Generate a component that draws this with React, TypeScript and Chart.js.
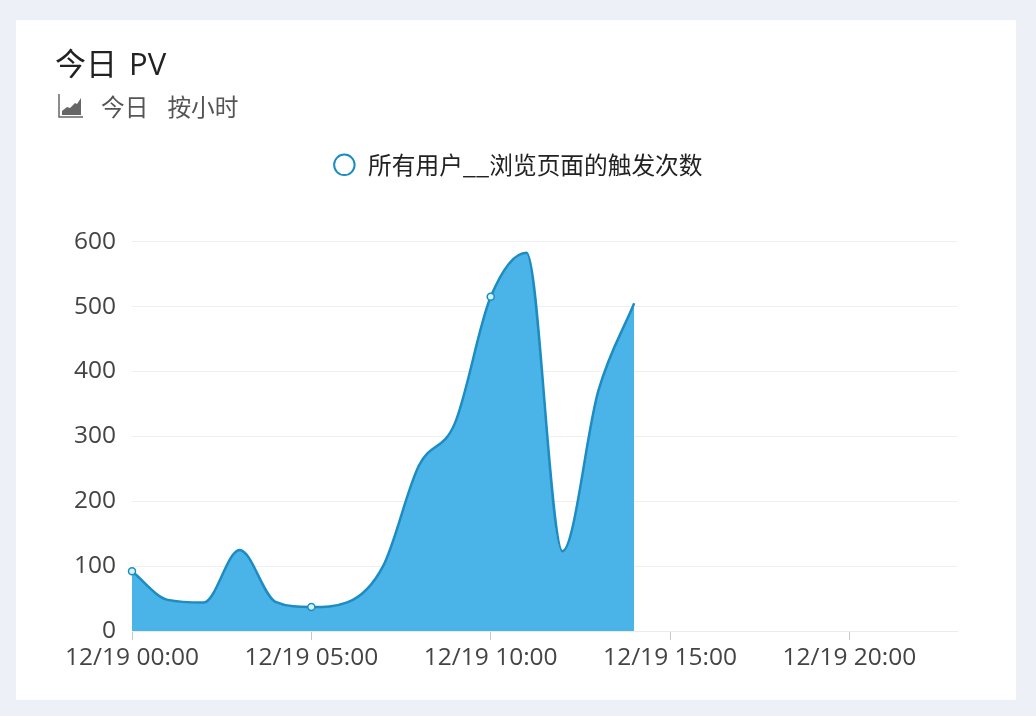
import React, { useEffect, useRef } from "react";
import { Chart, registerables } from "chart.js";

Chart.register(...registerables);

const hours: string[] = [
  "00", "01", "02", "03", "04", "05", "06", "07", "08", "09", "10", "11",
  "12", "13", "14", "15", "16", "17", "18", "19", "20", "21", "22", "23",
];
const categories: string[] = hours.map((h) => `12/19 ${h}:00`);
const pv: number[] = [92, 48, 44, 125, 45, 37, 44, 100, 255, 320, 515, 583, 123, 370, 505];
const markedIndexes: number[] = [0, 5, 10];
const yTicks: number[] = [0, 100, 200, 300, 400, 500, 600];
const seriesName = "所有用户__浏览页面的触发次数";
const latin = '"Open Sans", "Noto Sans CJK SC", sans-serif';
const cjk = '"Noto Sans CJK SC", "Open Sans", sans-serif';

const legendMover = {
  id: "legendMover",
  afterLayout(chart: any) {
    const l = chart.legend;
    const dy = 123 - l.top;
    l.top += dy;
    l.bottom += dy;
    l.left += 31;
    l.right += 31;
  },
};

export default function App() {
  const ref = useRef<HTMLCanvasElement | null>(null);
  useEffect(() => {
    const chart = new Chart(ref.current as HTMLCanvasElement, {
      type: "line",
      plugins: [legendMover],
      data: {
        labels: categories,
        datasets: [
          {
            label: seriesName,
            data: pv,
            fill: "origin",
            backgroundColor: "#4ab3e8",
            borderColor: "#1c8cc2",
            borderWidth: 2.5,
            cubicInterpolationMode: "monotone",
            pointRadius: (c: any) => (markedIndexes.includes(c.dataIndex) ? 3.5 : 0),
            pointBackgroundColor: "#d8f4f8",
            pointBorderColor: "#1c8cc2",
            pointBorderWidth: 1.5,
          },
        ],
      },
      options: {
        animation: false,
        responsive: false,
        layout: { padding: { top: 178, right: 59, left: 0, bottom: 0 } },
        plugins: {
          tooltip: { enabled: false },
          legend: {
            position: "top",
            labels: {
              usePointStyle: true,
              pointStyle: "circle",
              boxHeight: 14.5,
              padding: 10,
              color: "#222",
              font: { family: cjk, size: 23.7 },
              generateLabels: () => [
                {
                  text: seriesName,
                  fillStyle: "#ffffff",
                  strokeStyle: "#1c8cc2",
                  lineWidth: 2,
                  pointStyle: "circle",
                  datasetIndex: 0,
                  fontColor: "#222",
                },
              ],
            },
          },
        },
        scales: {
          x: {
            type: "category",
            offset: false,
            afterBuildTicks: (s: any) => {
              s.ticks = s.ticks.filter((t: any) => t.value % 5 === 0);
            },
            afterFit: (s: any) => {
              s.height = 69;
            },
            border: { color: "#ececec", width: 1 },
            grid: { drawOnChartArea: false, drawTicks: true, tickLength: 9, color: "#c9c9c9" },
            ticks: {
              autoSkip: false,
              maxRotation: 0,
              minRotation: 0,
              padding: 3,
              color: "#444",
              font: { family: latin, size: 24.5 },
            },
          },
          y: {
            min: 0,
            max: 600,
            afterBuildTicks: (s: any) => {
              s.ticks = yTicks.map((value) => ({ value }));
            },
            afterFit: (s: any) => {
              s.width = 116;
            },
            border: { display: false },
            grid: { color: "#efefef", drawTicks: false, lineWidth: 1 },
            ticks: {
              padding: 16,
              color: "#444",
              font: { family: latin, size: 24.5 },
            },
          },
        },
      },
    } as any);
    return () => chart.destroy();
  }, []);

  return (
    <div style={{ position: "fixed", inset: 0, background: "#edf0f7" }}>
      <div style={{ position: "absolute", left: 16, top: 20, width: 1000, height: 680, background: "#fff" }}>
        <canvas ref={ref} width={1000} height={680} style={{ position: "absolute", left: 0, top: 0 }} />
        <div
          style={{
            position: "absolute",
            left: 39,
            top: 21,
            fontFamily: latin,
            fontSize: 31,
            lineHeight: "44px",
            color: "#222",
            whiteSpace: "pre",
            wordSpacing: 4,
          }}
        >
          今日 PV
        </div>
        <svg width={26} height={26} viewBox="0 0 26 26" style={{ position: "absolute", left: 41, top: 72 }}>
          <path d="M2 2V25H26" fill="none" stroke="#666" strokeWidth="1.5" />
          <path d="M5 23V19L10 15L13 16L18 11L20 12L24 6V23Z" fill="#666" />
        </svg>
        <div
          style={{
            position: "absolute",
            left: 85,
            top: 68,
            fontFamily: cjk,
            fontSize: 23.7,
            lineHeight: "36px",
            color: "#555",
            whiteSpace: "pre",
          }}
        >
          <span>今日</span>
          <span style={{ marginLeft: 19 }}>按小时</span>
        </div>
      </div>
    </div>
  );
}
